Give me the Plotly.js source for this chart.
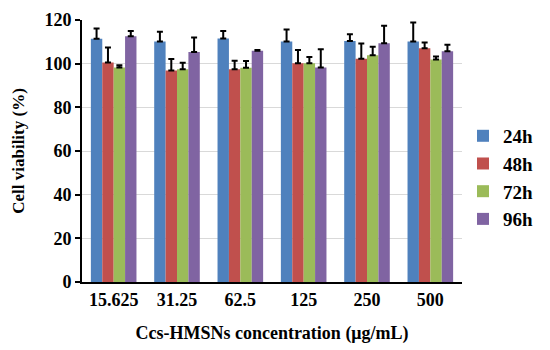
<!DOCTYPE html>
<html><head><meta charset="utf-8">
<script src="https://cdn.plot.ly/plotly-3.0.1.min.js"></script>
<style>body{margin:0;background:#fff}#c{width:550px;height:350px}</style>
</head><body><div id="c"></div>
<script>
var categories = ["15.625","31.25","62.5","125","250","500"];
var series = ["24h","48h","72h","96h"];
var v24 = [111.4,110.1,111.5,110.1,110.4,110.1];
var e24 = [4.7,4.5,3.5,5.5,3.1,8.7];
var v48 = [100.5,96.9,97.5,100.2,102.3,107.1];
var e48 = [6.9,5.2,3.8,6.1,6.9,2.6];
var v72 = [98.2,97.5,98.1,100.2,103.9,101.9];
var e72 = [1.1,2.9,3.1,2.8,3.9,1.4];
var v96 = [112.6,105.4,105.9,98.2,109.4,105.7];
var e96 = [2.4,6.6,0.4,8.4,8.0,3.0];
var colors = ["#4F81BD","#C0504D","#9BBB59","#8064A2"];
var vals = [v24,v48,v72,v96], errs = [e24,e48,e72,e96];
var font = "Liberation Serif";
var traces = series.map(function(s,i){
  return {type:'bar', name:s, x:categories, y:vals[i], legendgroup:s,
    marker:{color:colors[i]},
    error_y:{type:'data', symmetric:false, array:errs[i], arrayminus:errs[i].map(function(){return 0;}),
      color:'#000', thickness:2, width:3}};
});
var layout = {
  width:550, height:350,
  margin:{l:82, r:76, t:20, b:68},
  paper_bgcolor:'#fff', plot_bgcolor:'#fff',
  barmode:'group', bargap:0.28, bargroupgap:0,
  font:{family:font, color:'#000', weight:'bold'},
  xaxis:{type:'category', showline:true, linecolor:'#000', linewidth:2, ticks:'',
    tickfont:{family:font, size:18, weight:'bold'},
    title:{text:'Ccs-HMSNs concentration (μg/mL)', font:{family:font, size:18, weight:'bold'}, standoff:18},
    fixedrange:true},
  yaxis:{range:[0,120], dtick:20, showline:true, linecolor:'#000', linewidth:2,
    ticks:'outside', ticklen:5, tickwidth:2, tickcolor:'#000',
    showgrid:true, gridcolor:'#d9d9d9', gridwidth:1, zeroline:false,
    tickfont:{family:font, size:18, weight:'bold'},
    title:{text:'Cell viability (%)', font:{family:font, size:17, weight:'bold'}, standoff:15}},
  legend:{x:1.2, xanchor:'right', y:0.63, yanchor:'top', tracegroupgap:0,
    font:{family:font, size:19, weight:'bold'}, itemwidth:30},
  showlegend:true
};
Plotly.newPlot('c', traces, layout, {displayModeBar:false, staticPlot:true});
</script></body></html>
